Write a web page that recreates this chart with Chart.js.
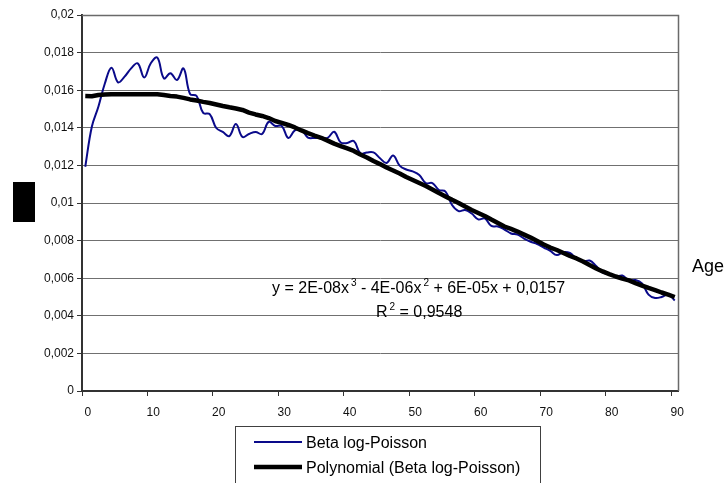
<!DOCTYPE html>
<html>
<head>
<meta charset="utf-8">
<script src="https://cdn.jsdelivr.net/npm/chart.js@4"></script>
<style>
  html, body { margin: 0; padding: 0; background: #ffffff; }
  #wrap { width: 726px; height: 483px; position: relative; }
</style>
</head>
<body>
<div id="wrap"><canvas id="c" width="726" height="483"></canvas></div>
<script>
// Age categories
const ages = [
  0, 1, 2, 3, 4, 5, 6, 7, 8, 9,
  10, 11, 12, 13, 14, 15, 16, 17, 18, 19,
  20, 21, 22, 23, 24, 25, 26, 27, 28, 29,
  30, 31, 32, 33, 34, 35, 36, 37, 38, 39,
  40, 41, 42, 43, 44, 45, 46, 47, 48, 49,
  50, 51, 52, 53, 54, 55, 56, 57, 58, 59,
  60, 61, 62, 63, 64, 65, 66, 67, 68, 69,
  70, 71, 72, 73, 74, 75, 76, 77, 78, 79,
  80, 81, 82, 83, 84, 85, 86, 87, 88, 89,
  90
];

// Beta log-Poisson estimate by age
const betaLogPoisson = [
  0.01193, 0.01406, 0.01512, 0.01637, 0.01720, 0.01642, 0.01672, 0.01716, 0.01743, 0.01668,
  0.01743, 0.01773, 0.01663, 0.01690, 0.01654, 0.01716, 0.01580, 0.01569, 0.01479, 0.01473,
  0.01399, 0.01378, 0.01356, 0.01420, 0.01351, 0.01367, 0.01378, 0.01367, 0.01431, 0.01410,
  0.01410, 0.01346, 0.01386, 0.01388, 0.01348, 0.01346, 0.01348, 0.01346, 0.01379, 0.01322,
  0.01319, 0.01330, 0.01264, 0.01269, 0.01269, 0.01238, 0.01213, 0.01253, 0.01199, 0.01178,
  0.01168, 0.01149, 0.01106, 0.01106, 0.01069, 0.01061, 0.00989, 0.00957, 0.00963, 0.00944,
  0.00913, 0.00918, 0.00878, 0.00875, 0.00859, 0.00838, 0.00832, 0.00811, 0.00794, 0.00782,
  0.00763, 0.00745, 0.00723, 0.00739, 0.00734, 0.00705, 0.00689, 0.00694, 0.00665, 0.00630,
  0.00622, 0.00609, 0.00614, 0.00588, 0.00590, 0.00572, 0.00513, 0.00495, 0.00500, 0.00513,
  0.00481
];

// Polynomial trend line values by age
const polyTrend = [
  0.01569, 0.01568, 0.01574, 0.01577, 0.01578, 0.01578, 0.01578, 0.01578, 0.01578, 0.01578,
  0.01578, 0.01578, 0.01574, 0.01569, 0.01566, 0.01559, 0.01551, 0.01545, 0.01538, 0.01532,
  0.01524, 0.01516, 0.01509, 0.01503, 0.01495, 0.01481, 0.01471, 0.01463, 0.01452, 0.01436,
  0.01426, 0.01415, 0.01402, 0.01386, 0.01372, 0.01359, 0.01347, 0.01332, 0.01316, 0.01303,
  0.01290, 0.01277, 0.01258, 0.01242, 0.01223, 0.01207, 0.01189, 0.01173, 0.01157, 0.01138,
  0.01122, 0.01106, 0.01090, 0.01072, 0.01053, 0.01035, 0.01017, 0.01000, 0.00981, 0.00963,
  0.00947, 0.00931, 0.00912, 0.00894, 0.00875, 0.00862, 0.00848, 0.00832, 0.00816, 0.00798,
  0.00779, 0.00763, 0.00750, 0.00734, 0.00718, 0.00705, 0.00689, 0.00670, 0.00652, 0.00636,
  0.00622, 0.00609, 0.00598, 0.00588, 0.00574, 0.00561, 0.00548, 0.00537, 0.00524, 0.00513,
  0.00500
];

// Y axis tick labels, from 0 up to 0,02
const yTickLabels = ['0', '0,002', '0,004', '0,006', '0,008', '0,01', '0,012', '0,014', '0,016', '0,018', '0,02'];

const seriesNames = ['Beta log-Poisson', 'Polynomial (Beta log-Poisson)'];
const equationParts = [
  ['y = 2E-08x', false], ['3', true], [' - 4E-06x', false], ['2', true], [' + 6E-05x + 0,0157', false]
];
const rSquaredParts = [['R', false], ['2', true], [' = 0,9548', false]];
const xAxisTitle = 'Age';

const FONT = "'Liberation Sans', Arial, sans-serif";

// Frame around the plot area, drawn beneath the lines
const plotFrame = {
  id: 'plotFrame',
  beforeDatasetsDraw(chart) {
    const { ctx, chartArea: a } = chart;
    ctx.save();
    ctx.strokeStyle = '#6a6a6a';
    ctx.lineWidth = 1.5;
    ctx.beginPath();
    ctx.moveTo(a.left, a.top + 0.5);
    ctx.lineTo(a.right + 0.5, a.top + 0.5);
    ctx.lineTo(a.right + 0.5, a.bottom);
    ctx.stroke();
    ctx.restore();
  }
};

function drawRich(ctx, parts, x, y, size) {
  let cx = x;
  parts.forEach(([txt, sup]) => {
    if (sup) {
      ctx.font = Math.round(size * 0.65) + 'px ' + FONT;
      cx += 2;
      ctx.fillText(txt, cx, y - size * 0.42);
    } else {
      ctx.font = size + 'px ' + FONT;
      ctx.fillText(txt, cx, y);
    }
    cx += ctx.measureText(txt).width;
  });
}

// Trend equation, axis caption, title block and legend
const annotations = {
  id: 'annotations',
  afterDraw(chart) {
    const { ctx, chartArea: a } = chart;
    ctx.save();
    ctx.fillStyle = '#000';
    ctx.textBaseline = 'alphabetic';
    ctx.textAlign = 'left';
    drawRich(ctx, equationParts, 272, 293, 16);
    drawRich(ctx, rSquaredParts, 376, 317, 16);

    ctx.font = '18px ' + FONT;
    ctx.fillText(xAxisTitle, a.right + 14, 272);

    // y axis title block
    ctx.fillRect(13, 182, 22, 40);

    // legend
    const lx = 235, ly = 426;
    ctx.strokeStyle = '#404040';
    ctx.lineWidth = 1;
    ctx.strokeRect(lx + 0.5, ly + 0.5, 305, 70);
    const rows = [442, 467];
    chart.data.datasets.forEach((ds, i) => {
      ctx.strokeStyle = ds.borderColor;
      ctx.lineWidth = i === 0 ? 2 : 4.5;
      ctx.beginPath();
      ctx.moveTo(254, rows[i]);
      ctx.lineTo(302, rows[i]);
      ctx.stroke();
      ctx.fillStyle = '#000';
      ctx.font = '16px ' + FONT;
      ctx.textBaseline = 'alphabetic';
      ctx.fillText(ds.label, 306, rows[i] + 6);
    });
    ctx.restore();
  }
};

new Chart(document.getElementById('c'), {
  type: 'line',
  data: {
    labels: ages,
    datasets: [
      {
        label: seriesNames[0],
        data: betaLogPoisson,
        borderColor: '#0a0a8a',
        borderWidth: 2,
        pointRadius: 0,
        tension: 0.4,
        fill: false,
        order: 1
      },
      {
        label: seriesNames[1],
        data: polyTrend,
        borderColor: '#000000',
        borderWidth: 4.5,
        pointRadius: 0,
        tension: 0,
        fill: false,
        borderJoinStyle: 'round',
        order: 0
      }
    ]
  },
  options: {
    responsive: false,
    animation: false,
    devicePixelRatio: 1,
    layout: { padding: { left: 0, top: 15, right: 48, bottom: 0 } },
    plugins: {
      legend: { display: false },
      tooltip: { enabled: false }
    },
    scales: {
      x: {
        type: 'category',
        offset: true,
        afterFit(scale) { scale.height = 92; },
        grid: {
          offset: true,
          drawOnChartArea: false,
          drawTicks: true,
          tickLength: 5,
          tickWidth: 1,
          tickColor: (c) => (c.index % 10 === 0 ? '#333333' : 'rgba(0,0,0,0)')
        },
        border: { display: true, color: '#333333', width: 2 },
        ticks: {
          autoSkip: false,
          maxRotation: 0,
          padding: 9,
          labelOffset: 2.5,
          color: '#111',
          font: { family: FONT, size: 12 },
          callback(value, index) {
            return index % 10 === 0 ? String(ages[index]) : '';
          }
        }
      },
      y: {
        min: 0,
        max: 0.02,
        afterFit(scale) { scale.width = 82; },
        grid: {
          color: '#707070',
          lineWidth: 1,
          drawTicks: true,
          tickLength: 5,
          tickColor: '#333333'
        },
        border: { display: true, color: '#333333', width: 2 },
        ticks: {
          stepSize: 0.002,
          padding: 3,
          color: '#111',
          font: { family: FONT, size: 12 },
          callback(value, index) { return yTickLabels[index]; }
        }
      }
    }
  },
  plugins: [plotFrame, annotations]
});
</script>
</body>
</html>
